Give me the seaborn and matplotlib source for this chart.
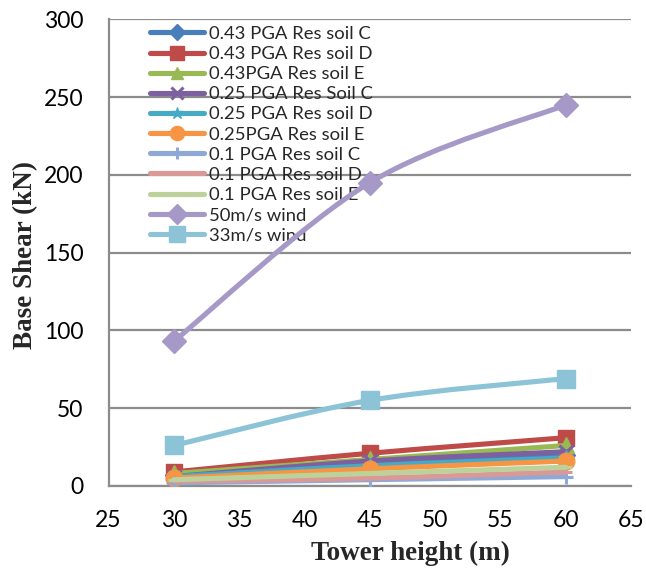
import matplotlib
matplotlib.use("Agg")
import matplotlib.pyplot as plt
from matplotlib.path import Path
from matplotlib.patches import PathPatch
from matplotlib.lines import Line2D
import seaborn as sns
import pandas as pd
import numpy as np

heights = [30, 45, 60]
series_names = [
    "0.43 PGA Res soil C", "0.43 PGA Res soil D", "0.43PGA Res soil E",
    "0.25 PGA Res Soil C", "0.25 PGA Res soil D", "0.25PGA Res soil E",
    "0.1 PGA Res soil C", "0.1 PGA Res soil D", "0.1 PGA Res soil E",
    "50m/s wind", "33m/s wind",
]
pga043_c = [7, 14, 20]
pga043_d = [9, 21, 31]
pga043_e = [8, 17, 26]
pga025_c = [6, 16, 22]
pga025_d = [6, 13, 18]
pga025_e = [5, 11, 16]
pga01_c = [2, 4, 6]
pga01_d = [3, 5, 9]
pga01_e = [4, 8, 12]
wind50 = [93, 195, 245]
wind33 = [26, 55, 69]
values = [pga043_c, pga043_d, pga043_e, pga025_c, pga025_d, pga025_e,
          pga01_c, pga01_d, pga01_e, wind50, wind33]

colors = ["#4A7EBB", "#BE4B48", "#98B954", "#7D60A0", "#46AAC5", "#F69544",
          "#8FA9D6", "#DA9896", "#BCD29A", "#A699C8", "#8CC3D7"]
markers = ["D", "s", "^", "x", "*", "o", "+", "_", "_", "D", "s"]
msizes = [9, 12, 11, 10, 11, 12, 10, 8, 8, 12, 13]
LW = 3.7

rows = []
for name, vals in zip(series_names, values):
    for h, v in zip(heights, vals):
        rows.append({"Tower height (m)": h, "Base Shear (kN)": v, "series": name})
df = pd.DataFrame(rows)


def smooth_path(xs, ys):
    """Excel-style smoothed line: cubic Bezier segments through the data points."""
    pts = np.column_stack([xs, ys]).astype(float)
    n = len(pts)
    verts = [pts[0]]
    codes = [Path.MOVETO]
    for i in range(n - 1):
        p_prev = pts[i - 1] if i > 0 else pts[i]
        p_next = pts[i + 2] if i + 2 < n else pts[i + 1]
        c1 = pts[i] + (pts[i + 1] - p_prev) / 6.0
        c2 = pts[i + 1] - (p_next - pts[i]) / 6.0
        verts += [c1, c2, pts[i + 1]]
        codes += [Path.CURVE4] * 3
    return Path(verts, codes)


sns.set_style("white")
plt.rcParams["font.family"] = ["Lato", "DejaVu Sans"]

fig = plt.figure(figsize=(6.46, 5.69), dpi=100)
ax = fig.add_axes([0.168, 0.146, 0.809, 0.820])

handles = []
for k, (name, col, mk, ms) in enumerate(zip(series_names, colors, markers, msizes)):
    sub = df[df["series"] == name]
    z = 3 + 2 * k
    ax.add_patch(PathPatch(smooth_path(sub["Tower height (m)"], sub["Base Shear (kN)"]),
                           facecolor="none", edgecolor=col, linewidth=LW,
                           capstyle="round", joinstyle="round", zorder=z))
    mew = 2.2 if mk in ["x", "+", "_"] else 1
    sns.lineplot(data=sub, x="Tower height (m)", y="Base Shear (kN)", ax=ax,
                 color=col, marker=mk, markersize=ms, linestyle="none",
                 markeredgecolor=col, markeredgewidth=mew,
                 legend=False, zorder=z + 1)
    handles.append(Line2D([], [], color=col, marker=mk, markersize=ms * 0.85,
                          markeredgecolor=col, markeredgewidth=mew, linewidth=LW,
                          solid_capstyle="round"))

ax.set_xlim(25, 65)
ax.set_ylim(0, 300)
ax.set_xticks(range(25, 66, 5))
ax.set_yticks(range(0, 301, 50))
ax.tick_params(axis="both", labelsize=16.5, length=0, colors="black")
ax.tick_params(axis="x", pad=17.5)
ax.tick_params(axis="y", pad=18)
ax.grid(axis="y", color="#8C8C8C", linewidth=1.6)
ax.grid(axis="x", visible=False)
ax.set_axisbelow(True)
for s in ["top", "right"]:
    ax.spines[s].set_visible(False)
for s in ["left", "bottom"]:
    ax.spines[s].set_color("#8C8C8C")
    ax.spines[s].set_linewidth(1.6)

ax.set_xlabel("Tower height (m)", fontsize=19.5, fontweight="bold",
              family="Liberation Serif")
ax.set_ylabel("Base Shear (kN)", fontsize=19.5, fontweight="bold",
              family="Liberation Serif")
ax.xaxis.label.set_va("center")
ax.yaxis.label.set_va("center")
ax.xaxis.set_label_coords(0.578, -0.145)
ax.yaxis.set_label_coords(-0.158, 0.496)

leg = ax.legend(handles, series_names, loc="upper left", bbox_to_anchor=(0.075, 0.99),
                frameon=False, fontsize=13.3, handlelength=2.95, handletextpad=0.27,
                labelspacing=0.225, borderaxespad=0.0, borderpad=0.1)
leg.set_zorder(2)

fig.savefig("out.png", dpi=100)
